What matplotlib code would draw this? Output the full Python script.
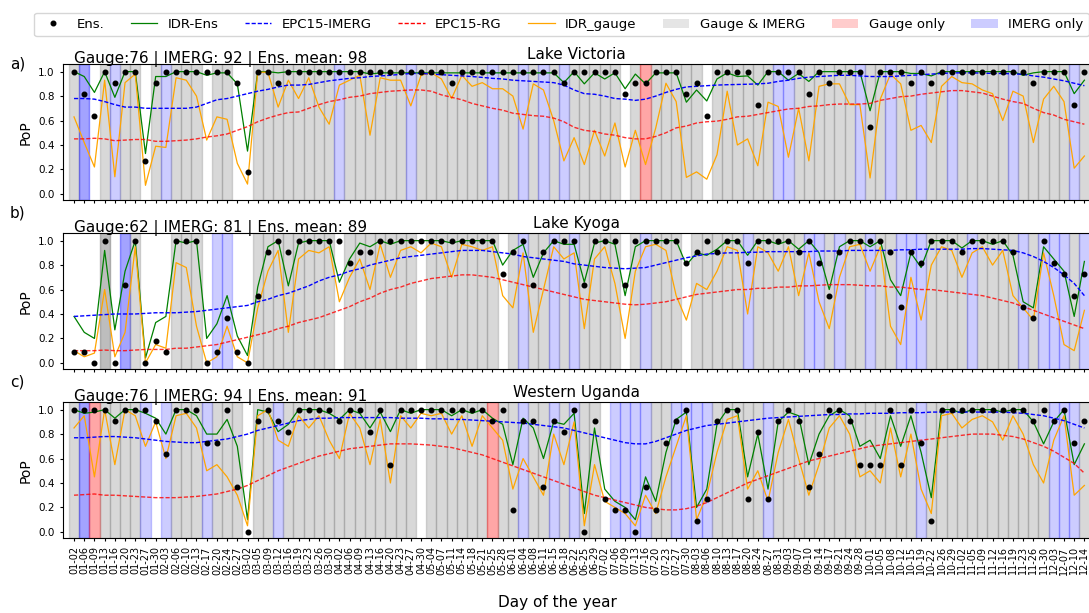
import numpy as np
import matplotlib
matplotlib.use("Agg")
import matplotlib.pyplot as plt
from matplotlib.lines import Line2D
from matplotlib.patches import Patch

# ---------------------------------------------------------------- data
dates = [
    "01-02", "01-06", "01-09", "01-13", "01-16", "01-20", "01-23", "01-27", "01-30", "02-03",
    "02-06", "02-10", "02-13", "02-17", "02-20", "02-24", "02-27", "03-02", "03-05", "03-09",
    "03-12", "03-16", "03-19", "03-23", "03-26", "03-30", "04-02", "04-06", "04-09", "04-13",
    "04-16", "04-20", "04-23", "04-27", "04-30", "05-04", "05-07", "05-11", "05-14", "05-18",
    "05-21", "05-25", "05-28", "06-01", "06-04", "06-08", "06-11", "06-15", "06-18", "06-22",
    "06-25", "06-29", "07-02", "07-06", "07-09", "07-13", "07-16", "07-20", "07-23", "07-27",
    "07-30", "08-03", "08-06", "08-10", "08-13", "08-17", "08-20", "08-24", "08-27", "08-31",
    "09-03", "09-07", "09-10", "09-14", "09-17", "09-21", "09-24", "09-28", "10-01", "10-05",
    "10-08", "10-12", "10-15", "10-19", "10-22", "10-26", "10-29", "11-02", "11-05", "11-09",
    "11-12", "11-16", "11-19", "11-23", "11-26", "11-30", "12-03", "12-07", "12-10", "12-14",
]
n_members = 11

# availability per date: g = gauge & IMERG, r = gauge only (p = faint), b = IMERG only,
# upper case = reported twice, '.' = neither

# ---- Lake Victoria
lv_ens_members = [
    11, 9, 7, 11, 10, 11, 11, 3, 10, 11,
    11, 11, 11, 11, 11, 11, 10, 2, 11, 11,
    10, 11, 11, 11, 11, 11, 11, 11, 11, 11,
    11, 11, 11, 11, 11, 11, 11, 10, 11, 11,
    11, 11, 11, 11, 11, 11, 11, 11, 10, 11,
    11, 11, 11, 11, 9, 10, 10, 11, 11, 11,
    9, 10, 7, 11, 11, 11, 11, 8, 11, 11,
    11, 11, 9, 11, 10, 11, 11, 11, 6, 11,
    11, 11, 10, 11, 10, 11, 11, 11, 11, 11,
    11, 11, 11, 11, 10, 11, 11, 11, 8, 11,
]
lv_idr_ens = [
    1.0, 0.96, 0.83, 1.0, 0.79, 1.0, 1.0, 0.33, 0.96, 0.96,
    1.0, 1.0, 1.0, 0.97, 0.99, 0.99, 0.90, 0.35, 1.0, 1.0,
    0.99, 1.0, 1.0, 1.0, 1.0, 1.0, 1.0, 1.0, 1.0, 0.98,
    0.99, 0.99, 0.99, 0.99, 0.99, 0.99, 0.99, 0.99, 0.99, 0.99,
    0.99, 0.99, 0.99, 0.99, 0.99, 0.99, 0.99, 0.99, 0.91, 1.0,
    0.90, 0.99, 0.94, 0.99, 0.86, 0.98, 0.90, 0.99, 0.99, 0.99,
    0.75, 0.85, 0.76, 0.94, 0.99, 0.96, 0.965, 0.89, 1.0, 1.0,
    0.93, 0.985, 0.92, 1.0, 1.0, 1.0, 1.0, 1.0, 0.68, 1.0,
    1.0, 1.0, 0.985, 0.985, 0.965, 1.0, 1.0, 1.0, 1.0, 1.0,
    1.0, 1.0, 1.0, 0.97, 0.99, 1.0, 1.0, 1.0, 0.82, 0.93,
]
lv_epc_imerg = [
    0.78, 0.78, 0.775, 0.755, 0.73, 0.71, 0.71, 0.70, 0.70, 0.70,
    0.70, 0.70, 0.71, 0.74, 0.77, 0.78, 0.80, 0.82, 0.84, 0.855,
    0.875, 0.89, 0.89, 0.895, 0.91, 0.925, 0.935, 0.945, 0.95, 0.96,
    0.965, 0.97, 0.978, 0.985, 0.985, 0.98, 0.975, 0.97, 0.965, 0.96,
    0.953, 0.945, 0.94, 0.93, 0.925, 0.92, 0.915, 0.91, 0.89, 0.85,
    0.82, 0.815, 0.80, 0.78, 0.775, 0.765, 0.775, 0.80, 0.83, 0.855,
    0.875, 0.88, 0.885, 0.89, 0.893, 0.895, 0.897, 0.90, 0.905, 0.92,
    0.93, 0.945, 0.955, 0.96, 0.965, 0.97, 0.97, 0.965, 0.96, 0.96,
    0.96, 0.965, 0.97, 0.975, 0.98, 0.985, 0.99, 0.99, 0.99, 0.988,
    0.985, 0.985, 0.982, 0.978, 0.965, 0.955, 0.94, 0.925, 0.905, 0.885,
]
lv_epc_rg = [
    0.45, 0.45, 0.455, 0.45, 0.435, 0.44, 0.445, 0.445, 0.43, 0.43,
    0.435, 0.44, 0.45, 0.465, 0.475, 0.49, 0.52, 0.55, 0.59, 0.62,
    0.645, 0.665, 0.67, 0.70, 0.73, 0.755, 0.77, 0.79, 0.80, 0.82,
    0.83, 0.84, 0.845, 0.85, 0.85, 0.84, 0.81, 0.79, 0.77, 0.74,
    0.72, 0.70, 0.685, 0.66, 0.65, 0.64, 0.635, 0.62, 0.59, 0.545,
    0.52, 0.51, 0.49, 0.48, 0.46, 0.45, 0.45, 0.47, 0.50, 0.54,
    0.555, 0.58, 0.59, 0.595, 0.61, 0.63, 0.635, 0.65, 0.665, 0.68,
    0.695, 0.70, 0.715, 0.72, 0.73, 0.735, 0.735, 0.735, 0.74, 0.765,
    0.78, 0.795, 0.80, 0.815, 0.825, 0.835, 0.845, 0.845, 0.835, 0.825,
    0.80, 0.775, 0.755, 0.74, 0.70, 0.665, 0.645, 0.61, 0.59, 0.57,
]
lv_idr_gauge = [
    0.63, 0.42, 0.22, 0.93, 0.14, 0.91, 0.98, 0.07, 0.39, 0.38,
    0.95, 0.93, 0.80, 0.44, 0.63, 0.61, 0.25, 0.08, 0.995, 0.995,
    0.71, 0.93, 0.78, 0.95, 0.71, 0.57, 0.89, 0.93, 0.97, 0.48,
    0.95, 0.93, 0.93, 0.72, 0.97, 0.99, 0.94, 0.78, 0.97, 0.88,
    0.91, 0.86, 0.86, 0.80, 0.53, 0.90, 0.85, 0.60, 0.27, 0.46,
    0.24, 0.52, 0.31, 0.58, 0.22, 0.52, 0.24, 0.54, 0.905, 0.755,
    0.135, 0.18, 0.12, 0.32, 0.84, 0.40, 0.45, 0.23, 0.75, 0.715,
    0.30, 0.70, 0.27, 0.88, 0.90, 0.90, 0.73, 0.73, 0.13, 0.775,
    0.98, 0.90, 0.52, 0.56, 0.42, 0.88, 0.96, 0.91, 0.90, 0.85,
    0.82, 0.60, 0.84, 0.80, 0.42, 0.775, 0.88, 0.755, 0.21, 0.31,
]
lv_avail = ("gB.gbgg.gb" "ggg.gg..gg" "ggggggbggg" "gggbgggggg" "gbggbgbgbg"
            "gggg.grggg" "gg.ggggggb" "bggggggbgg" "bggbggbggg" "ggbgggggbg")

# ---- Lake Kyoga
lk_ens_members = [
    1, 1, 0, 11, 0, 7, 11, 0, 2, 1,
    11, 11, 11, 0, 1, 4, 1, 0, 6, 10,
    11, 10, 11, 11, 11, 11, 11, 9, 10, 10,
    11, 11, 11, 11, 11, 11, 11, 11, 11, 11,
    11, 11, 8, 10, 11, 7, 10, 11, 11, 11,
    7, 11, 11, 11, 7, 11, 11, 11, 11, 11,
    9, 10, 11, 10, 11, 11, 9, 11, 11, 11,
    11, 10, 11, 9, 6, 10, 11, 11, 11, 11,
    10, 5, 10, 9, 11, 11, 11, 10, 11, 11,
    11, 11, 10, 5, 4, 11, 9, 8, 6, 8,
]
lk_idr_ens = [
    0.38, 0.25, 0.20, 0.92, 0.27, 0.75, 1.0, 0.04, 0.33, 0.38,
    1.0, 0.98, 1.0, 0.20, 0.32, 0.55, 0.22, 0.06, 0.62, 0.95,
    1.0, 0.63, 0.98, 1.0, 1.0, 1.0, 0.66, 0.85, 0.98, 0.95,
    1.0, 0.97, 1.0, 1.0, 1.0, 1.0, 1.0, 0.98, 1.0, 1.0,
    1.0, 1.0, 0.80, 0.92, 0.97, 0.70, 0.90, 1.0, 0.97, 0.97,
    0.66, 0.98, 1.0, 0.97, 0.55, 0.95, 1.0, 1.0, 1.0, 1.0,
    0.80, 0.90, 0.88, 0.93, 1.0, 1.0, 0.88, 1.0, 1.0, 0.97,
    1.0, 0.93, 1.0, 0.90, 0.60, 0.95, 1.0, 1.0, 0.95, 1.0,
    0.68, 0.55, 0.90, 0.78, 1.0, 1.0, 1.0, 0.94, 1.0, 1.0,
    0.97, 1.0, 0.88, 0.50, 0.45, 0.95, 0.85, 0.75, 0.38, 0.83,
]
lk_epc_imerg = [
    0.38, 0.385, 0.39, 0.395, 0.40, 0.40, 0.40, 0.405, 0.41, 0.41,
    0.41, 0.415, 0.42, 0.43, 0.44, 0.45, 0.46, 0.47, 0.50, 0.52,
    0.55, 0.57, 0.60, 0.63, 0.67, 0.70, 0.72, 0.75, 0.77, 0.80,
    0.82, 0.84, 0.86, 0.87, 0.88, 0.89, 0.90, 0.91, 0.92, 0.92,
    0.92, 0.91, 0.90, 0.89, 0.87, 0.86, 0.85, 0.84, 0.83, 0.81,
    0.80, 0.79, 0.78, 0.775, 0.77, 0.775, 0.78, 0.80, 0.82, 0.84,
    0.86, 0.875, 0.89, 0.895, 0.90, 0.90, 0.905, 0.905, 0.91, 0.91,
    0.91, 0.91, 0.91, 0.915, 0.915, 0.915, 0.92, 0.92, 0.92, 0.92,
    0.92, 0.925, 0.925, 0.93, 0.93, 0.93, 0.93, 0.93, 0.935, 0.935,
    0.93, 0.925, 0.92, 0.90, 0.87, 0.83, 0.78, 0.72, 0.65, 0.55,
]
lk_epc_rg = [
    0.10, 0.10, 0.10, 0.105, 0.10, 0.10, 0.105, 0.11, 0.11, 0.11,
    0.12, 0.12, 0.13, 0.14, 0.15, 0.17, 0.19, 0.21, 0.23, 0.25,
    0.28, 0.30, 0.33, 0.35, 0.37, 0.40, 0.43, 0.46, 0.50, 0.53,
    0.57, 0.60, 0.62, 0.65, 0.67, 0.69, 0.70, 0.71, 0.72, 0.72,
    0.71, 0.70, 0.68, 0.66, 0.64, 0.62, 0.60, 0.58, 0.56, 0.54,
    0.52, 0.51, 0.50, 0.49, 0.48, 0.475, 0.48, 0.49, 0.50, 0.52,
    0.54, 0.56, 0.57, 0.58, 0.59, 0.60, 0.60, 0.61, 0.61, 0.62,
    0.62, 0.63, 0.63, 0.635, 0.64, 0.64, 0.64, 0.635, 0.63, 0.63,
    0.62, 0.62, 0.61, 0.60, 0.60, 0.59, 0.58, 0.57, 0.56, 0.55,
    0.53, 0.51, 0.49, 0.46, 0.43, 0.40, 0.37, 0.34, 0.31, 0.28,
]
lk_idr_gauge = [
    0.10, 0.05, 0.08, 0.60, 0.05, 0.25, 0.95, 0.00, 0.15, 0.12,
    0.82, 0.78, 0.30, 0.00, 0.05, 0.30, 0.05, 0.00, 0.45, 0.75,
    0.92, 0.25, 0.85, 0.92, 0.90, 0.95, 0.50, 0.70, 0.85, 0.60,
    0.97, 0.70, 0.92, 0.95, 0.90, 0.98, 0.95, 0.70, 0.97, 0.95,
    0.92, 0.95, 0.55, 0.45, 0.90, 0.25, 0.60, 0.95, 0.85, 0.90,
    0.28, 0.85, 0.95, 0.65, 0.20, 0.75, 0.95, 0.97, 0.92, 0.55,
    0.35, 0.65, 0.60, 0.75, 0.95, 0.92, 0.40, 0.95, 0.90, 0.75,
    0.95, 0.55, 0.90, 0.50, 0.28, 0.70, 0.95, 0.97, 0.75, 0.95,
    0.30, 0.15, 0.70, 0.35, 0.80, 0.95, 0.92, 0.70, 0.90, 0.95,
    0.80, 0.92, 0.55, 0.45, 0.35, 0.90, 0.55, 0.15, 0.10, 0.43,
]
lk_avail = ("...G.Bg..." "ggg.bb..gg" "gggggg.ggg" "gggg.ggggg" "gg.gbggbgb"
            "gggg.gbggg" ".gggggbggg" "ggbbgbggbg" "gbbbggggbg" "gggbgbbbgb")

# ---- Western Uganda
wu_ens_members = [
    11, 11, 11, 11, 10, 11, 11, 11, 10, 7,
    11, 11, 11, 8, 8, 11, 4, 0, 10, 11,
    10, 9, 11, 11, 11, 11, 10, 11, 11, 9,
    11, 6, 11, 11, 11, 11, 11, 11, 11, 11,
    11, 10, 11, 2, 10, 10, 4, 10, 9, 11,
    0, 10, 3, 2, 2, 0, 4, 2, 8, 10,
    11, 1, 3, 10, 11, 11, 3, 9, 3, 10,
    11, 10, 4, 7, 11, 11, 10, 6, 6, 6,
    11, 6, 11, 8, 1, 11, 11, 11, 11, 11,
    11, 11, 11, 11, 10, 11, 10, 11, 8, 10,
]
wu_idr_ens = [
    1.0, 0.97, 0.98, 1.0, 0.93, 1.0, 1.0, 0.97, 0.93, 0.80,
    1.0, 1.0, 0.95, 0.80, 0.80, 0.92, 0.70, 0.10, 1.0, 0.98,
    0.82, 0.88, 1.0, 1.0, 1.0, 0.97, 0.92, 1.0, 0.97, 0.85,
    0.98, 0.82, 1.0, 0.97, 1.0, 1.0, 1.0, 0.95, 1.0, 0.97,
    1.0, 0.93, 0.88, 0.55, 0.93, 0.85, 0.60, 0.90, 0.88, 0.97,
    0.15, 0.85, 0.35, 0.25, 0.20, 0.10, 0.45, 0.25, 0.65, 0.92,
    0.98, 0.20, 0.35, 0.88, 1.0, 1.0, 0.45, 0.80, 0.35, 0.90,
    0.98, 0.95, 0.55, 0.80, 0.95, 1.0, 0.95, 0.70, 0.75, 0.60,
    0.95, 0.70, 0.95, 0.65, 0.28, 1.0, 1.0, 0.97, 1.0, 1.0,
    1.0, 0.98, 1.0, 1.0, 0.90, 0.72, 0.90, 1.0, 0.55, 0.72,
]
wu_epc_imerg = [
    0.77, 0.77, 0.775, 0.78, 0.78, 0.775, 0.77, 0.76, 0.75, 0.74,
    0.735, 0.73, 0.73, 0.74, 0.75, 0.76, 0.78, 0.80, 0.83, 0.85,
    0.87, 0.89, 0.91, 0.92, 0.93, 0.93, 0.935, 0.935, 0.935, 0.935,
    0.935, 0.935, 0.93, 0.93, 0.93, 0.925, 0.925, 0.92, 0.92, 0.915,
    0.91, 0.905, 0.90, 0.895, 0.89, 0.88, 0.87, 0.86, 0.85, 0.83,
    0.81, 0.79, 0.77, 0.75, 0.73, 0.72, 0.72, 0.74, 0.77, 0.80,
    0.83, 0.85, 0.87, 0.88, 0.89, 0.90, 0.91, 0.92, 0.93, 0.935,
    0.94, 0.945, 0.95, 0.955, 0.96, 0.96, 0.965, 0.965, 0.97, 0.97,
    0.97, 0.975, 0.975, 0.975, 0.98, 0.98, 0.98, 0.98, 0.98, 0.98,
    0.98, 0.98, 0.975, 0.97, 0.96, 0.95, 0.93, 0.91, 0.88, 0.85,
]
wu_epc_rg = [
    0.30, 0.305, 0.31, 0.30, 0.30, 0.295, 0.29, 0.285, 0.28, 0.28,
    0.28, 0.285, 0.29, 0.30, 0.31, 0.33, 0.35, 0.38, 0.42, 0.46,
    0.50, 0.53, 0.56, 0.59, 0.62, 0.64, 0.66, 0.68, 0.69, 0.70,
    0.71, 0.72, 0.72, 0.72, 0.715, 0.71, 0.70, 0.69, 0.67, 0.65,
    0.63, 0.60, 0.57, 0.54, 0.51, 0.48, 0.45, 0.42, 0.39, 0.36,
    0.33, 0.30, 0.28, 0.26, 0.24, 0.22, 0.20, 0.19, 0.18, 0.18,
    0.19, 0.21, 0.24, 0.28, 0.32, 0.36, 0.40, 0.43, 0.46, 0.49,
    0.52, 0.55, 0.58, 0.60, 0.62, 0.64, 0.66, 0.68, 0.70, 0.71,
    0.72, 0.73, 0.74, 0.75, 0.76, 0.77, 0.78, 0.79, 0.80, 0.80,
    0.80, 0.79, 0.78, 0.76, 0.73, 0.70, 0.66, 0.61, 0.56, 0.48,
]
wu_idr_gauge = [
    0.85, 0.95, 0.45, 1.0, 0.55, 1.0, 0.95, 0.70, 0.90, 0.60,
    0.95, 0.97, 0.85, 0.50, 0.55, 0.45, 0.30, 0.05, 0.95, 1.0,
    0.75, 0.70, 0.95, 0.85, 0.95, 0.75, 0.60, 0.97, 0.85, 0.55,
    0.92, 0.40, 0.95, 0.85, 0.97, 0.95, 0.97, 0.80, 0.95, 0.70,
    0.95, 0.85, 0.75, 0.35, 0.60, 0.45, 0.30, 0.80, 0.55, 0.90,
    0.05, 0.55, 0.25, 0.20, 0.15, 0.05, 0.30, 0.15, 0.45, 0.70,
    0.95, 0.10, 0.30, 0.65, 0.92, 0.95, 0.35, 0.50, 0.25, 0.65,
    0.92, 0.60, 0.30, 0.55, 0.85, 0.95, 0.80, 0.45, 0.50, 0.40,
    0.85, 0.45, 0.80, 0.35, 0.15, 0.95, 0.97, 0.85, 0.92, 0.95,
    0.90, 0.75, 0.95, 0.80, 0.55, 0.40, 0.75, 0.95, 0.30, 0.38,
]
wu_avail = ("gBrggggb.b" "gggbggg.gg" "bggggggggg" "gggg.ggggg" "grggbggbgb"
            "gg.bbbbggb" "bbbgggggbg" "gggggggggg" "gggbgggggg" "ggggggbbbg")

regions = [
    dict(tag="a)", tag_y=64, name="Lake Victoria", scores=(76, 92, 98),
         ens=lv_ens_members, idr_ens=lv_idr_ens, epc_imerg=lv_epc_imerg,
         epc_rg=lv_epc_rg, idr_gauge=lv_idr_gauge, avail=lv_avail),
    dict(tag="b)", tag_y=213, name="Lake Kyoga", scores=(62, 81, 89),
         ens=lk_ens_members, idr_ens=lk_idr_ens, epc_imerg=lk_epc_imerg,
         epc_rg=lk_epc_rg, idr_gauge=lk_idr_gauge, avail=lk_avail),
    dict(tag="c)", tag_y=382, name="Western Uganda", scores=(76, 94, 91),
         ens=wu_ens_members, idr_ens=wu_idr_ens, epc_imerg=wu_epc_imerg,
         epc_rg=wu_epc_rg, idr_gauge=wu_idr_gauge, avail=wu_avail),
]

# ---------------------------------------------------------------- styling
span_style = {
    "g": dict(color="gray", alpha=0.3),
    "r": dict(color="red", alpha=0.35),
    "p": dict(color="red", alpha=0.18),
    "b": dict(color="blue", alpha=0.2),
}
dash = (3.0, 1.4)

W, H = 1089, 613
fig = plt.figure(figsize=(W / 100, H / 100), dpi=100)

left_px, right_px = 63, 1089.5
tops_px = [64.3, 233.3, 402.3]
height_px = 135.7
x = np.arange(len(dates))

for k, reg in enumerate(regions):
    top = tops_px[k]
    ax = fig.add_axes([left_px / W, 1 - (top + height_px) / H,
                       (right_px - left_px) / W, height_px / H])

    for i, c in enumerate(reg["avail"]):
        if c == ".":
            continue
        for _ in range(2 if c.isupper() else 1):
            ax.axvspan(i - 0.5, i + 0.5, zorder=0, **span_style[c.lower()])

    ax.plot(x, reg["idr_ens"], color="green", lw=0.9, zorder=3)
    ax.plot(x, reg["idr_gauge"], color="orange", lw=0.9, zorder=3)
    ax.plot(x, reg["epc_imerg"], color="blue", lw=1.0, ls="--", dashes=dash,
            zorder=4)
    ax.plot(x, reg["epc_rg"], color="red", lw=1.0, ls="--", dashes=dash,
            alpha=0.8, zorder=4)
    ax.plot(x, np.array(reg["ens"]) / n_members, "o", color="black", ms=3.3,
            zorder=5)

    ax.set_xlim(-1.08, 99.5)
    ax.set_ylim(-0.05, 1.06)
    ax.set_yticks(np.arange(0, 1.01, 0.2))
    ax.set_yticklabels([f"{v:.1f}" for v in np.arange(0, 1.01, 0.2)], fontsize=7.5)
    ax.set_xticks(x)
    if k == 2:
        ax.set_xticklabels(dates, rotation=90, fontsize=7)
    else:
        ax.set_xticklabels([])
    ax.tick_params(length=2.5, width=0.8)
    ax.set_ylabel("PoP", fontsize=10, labelpad=4)

    g, im, en = reg["scores"]
    ax.text(0.0108, 1.012, f"Gauge:{g} | IMERG: {im} | Ens. mean: {en}",
            transform=ax.transAxes, fontsize=11, ha="left", va="baseline")
    ax.set_title(reg["name"], fontsize=11, pad=4)
    fig.text(0.009, 1 - reg["tag_y"] / H, reg["tag"], fontsize=11,
             ha="left", va="center")

fig.text(0.512, 1 - 603 / H, "Day of the year", fontsize=11, ha="center",
         va="center")

handles = [
    Line2D([], [], ls="none", marker="o", color="black", ms=3.3, label="Ens."),
    Line2D([], [], color="green", lw=0.9, label="IDR-Ens"),
    Line2D([], [], color="blue", lw=1.0, ls="--", dashes=dash, label="EPC15-IMERG"),
    Line2D([], [], color="red", lw=1.0, ls="--", dashes=dash, label="EPC15-RG"),
    Line2D([], [], color="orange", lw=0.9, label="IDR_gauge"),
    Patch(facecolor="gray", alpha=0.2, label="Gauge & IMERG"),
    Patch(facecolor="red", alpha=0.2, label="Gauge only"),
    Patch(facecolor="blue", alpha=0.2, label="IMERG only"),
]
fig.legend(handles=handles, ncol=8, loc="upper center",
           bbox_to_anchor=(561.5 / W, 1 - 6 / H), fontsize=9.5,
           frameon=True, columnspacing=2.0, handlelength=2.0)

fig.savefig("out.png", dpi=100)
